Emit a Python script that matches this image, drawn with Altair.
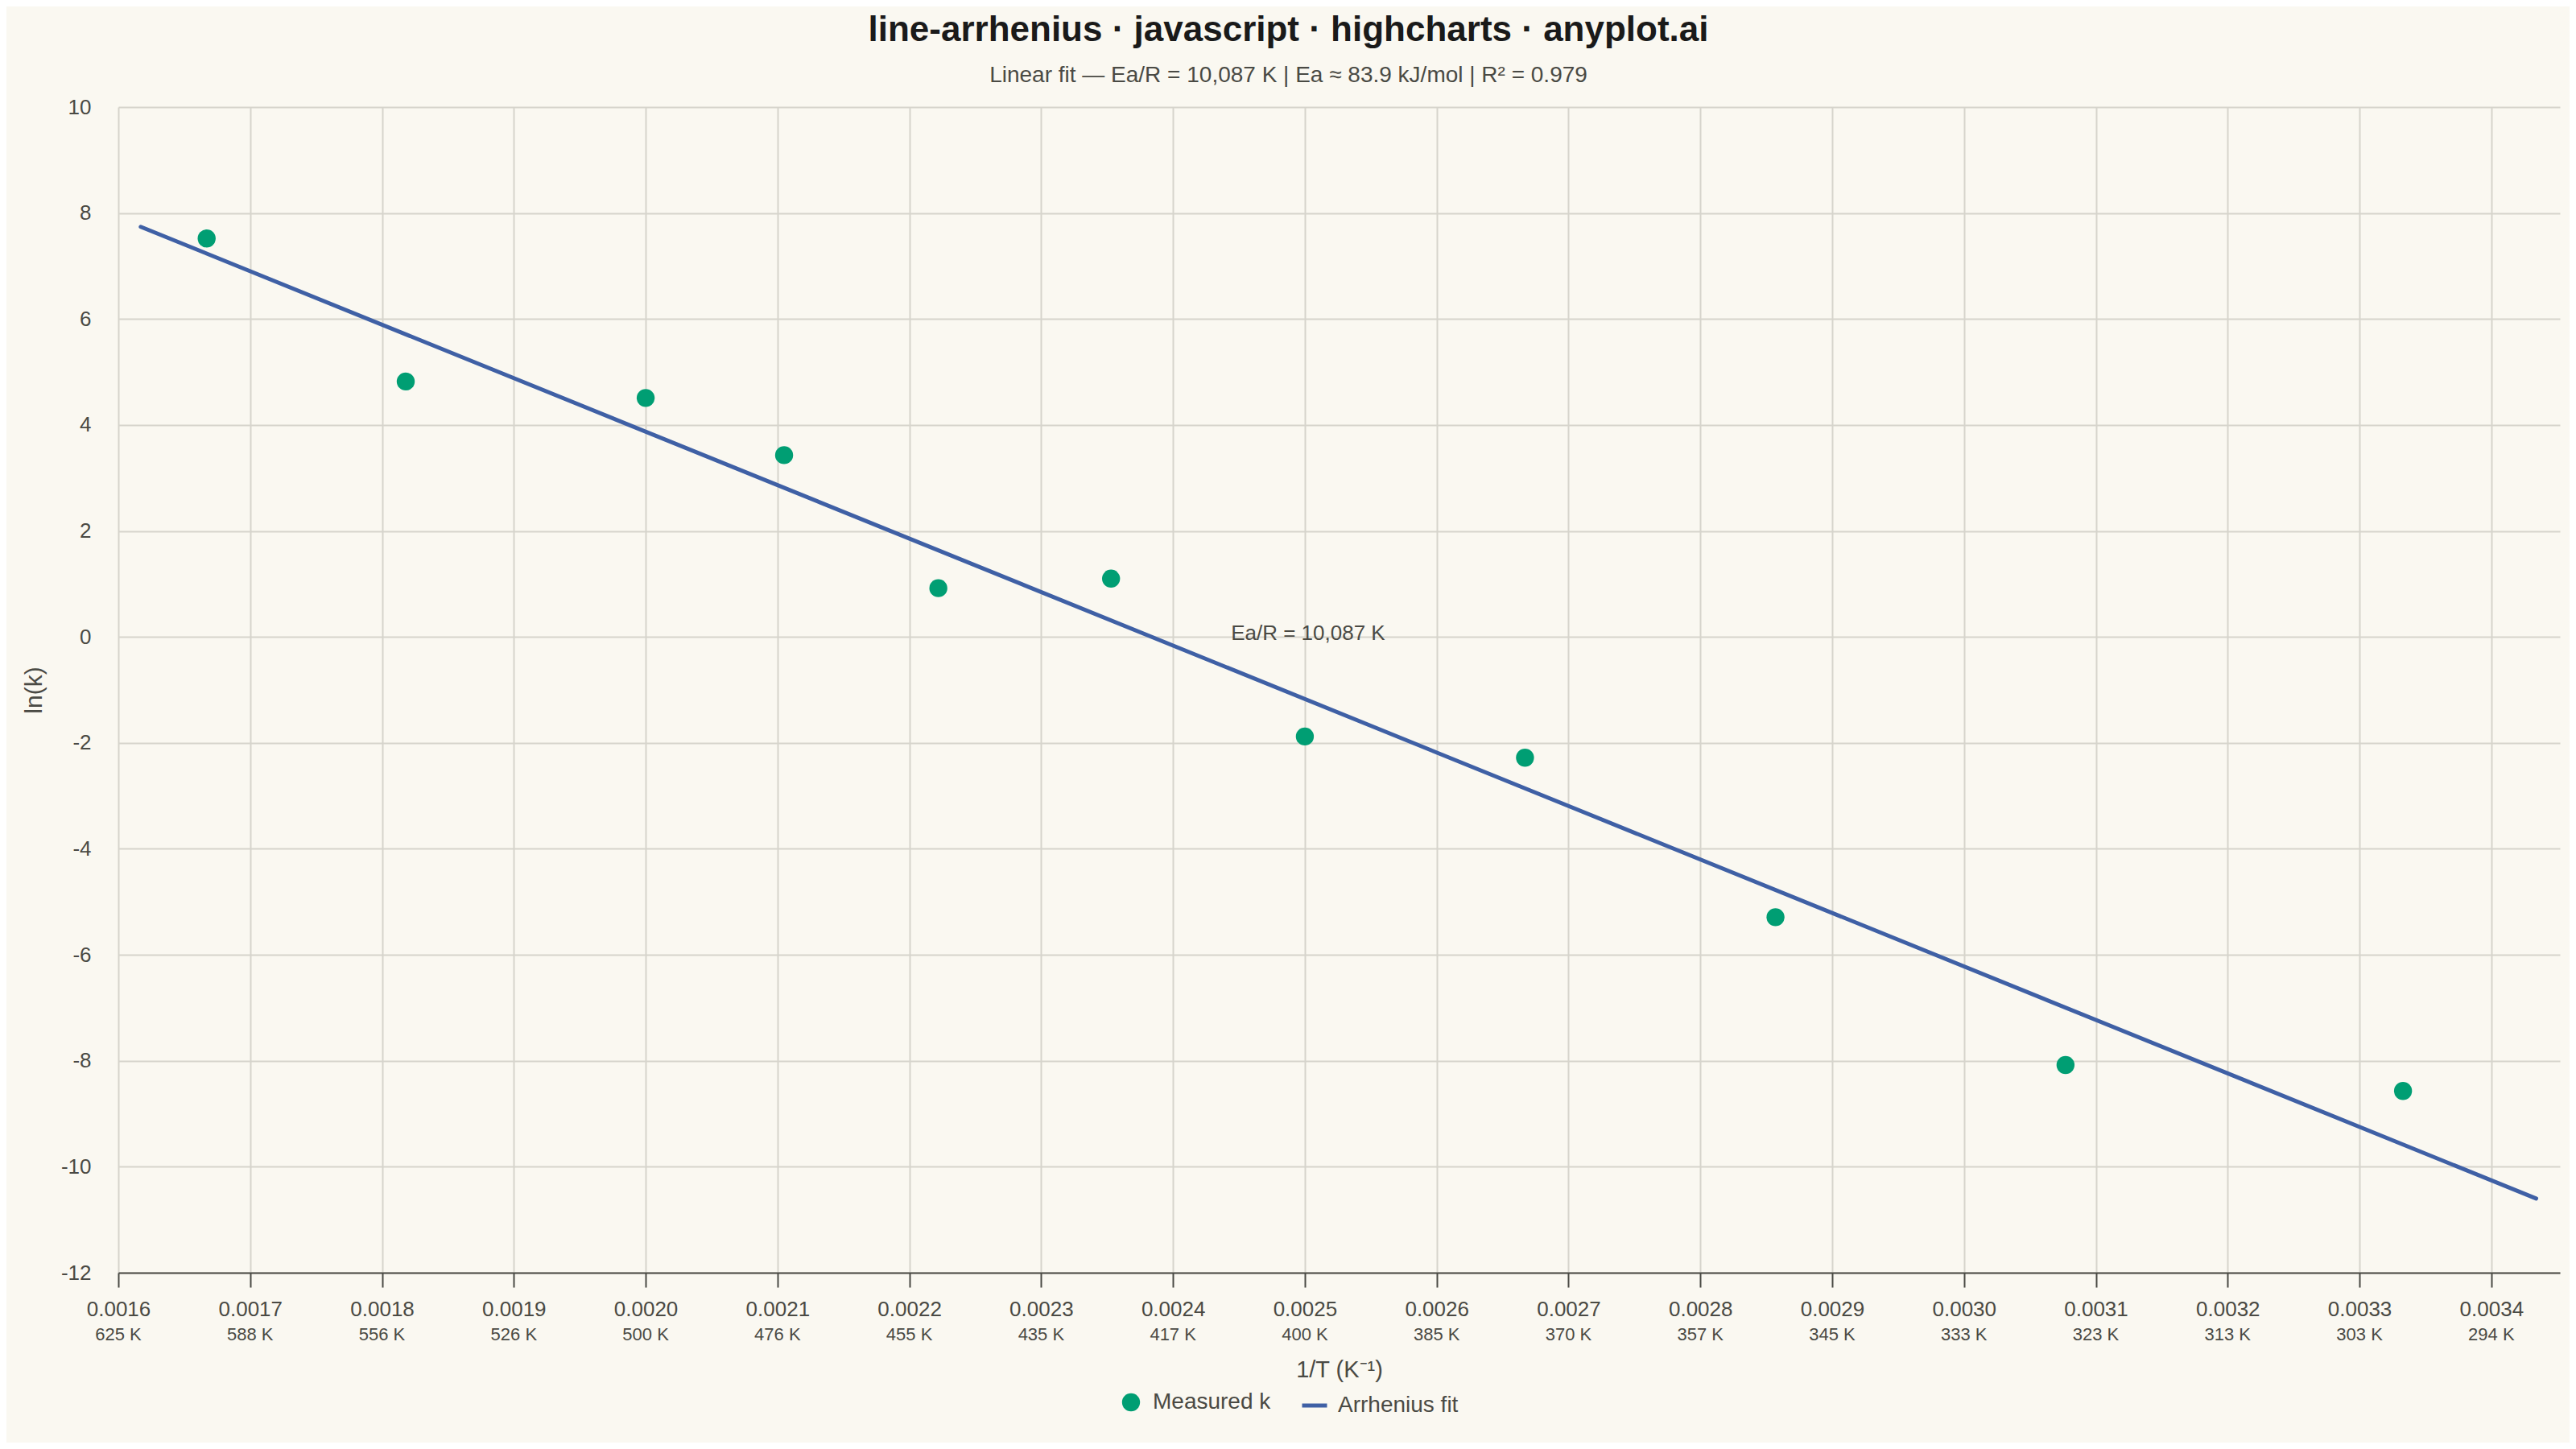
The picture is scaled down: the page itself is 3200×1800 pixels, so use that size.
import altair as alt
import pandas as pd

# ---- data ----
inv_T = [0.001667, 0.001818, 0.002000, 0.002105, 0.002222, 0.002353,
         0.002500, 0.002667, 0.002857, 0.003077, 0.003333]
ln_k = [7.52, 4.82, 4.51, 3.43, 0.92, 1.10, -1.88, -2.28, -5.29, -8.08, -8.57]

fit_x = [0.001617, 0.003434]
fit_y = [7.74, -10.60]

tick_values = [0.0016, 0.0017, 0.0018, 0.0019, 0.0020, 0.0021, 0.0022, 0.0023,
               0.0024, 0.0025, 0.0026, 0.0027, 0.0028, 0.0029, 0.0030, 0.0031,
               0.0032, 0.0033, 0.0034]
kelvin_labels = ["625 K", "588 K", "556 K", "526 K", "500 K", "476 K", "455 K",
                 "435 K", "417 K", "400 K", "385 K", "370 K", "357 K", "345 K",
                 "333 K", "323 K", "313 K", "303 K", "294 K"]
y_ticks = [-12, -10, -8, -6, -4, -2, 0, 2, 4, 6, 8, 10]

annot_x = [0.0025]
annot_y = [0.0]
annot_text = ["Ea/R = 10,087 K"]

TITLE = "line-arrhenius · javascript · highcharts · anyplot.ai"
SUBTITLE = "Linear fit — Ea/R = 10,087 K | Ea ≈ 83.9 kJ/mol | R² = 0.979"

FONT = "Liberation Sans"
BG = "#FAF8F1"
TEXT = "#4A4A44"
GREEN = "#009E73"
BLUE = "#3F60A5"
GRID = "#D6D4CC"

W, H = 3033, 1448

pts = pd.DataFrame({"x": inv_T, "y": ln_k, "series": ["Measured k"] * len(inv_T)})
fit = pd.DataFrame({"x": fit_x, "y": fit_y, "series": ["Arrhenius fit"] * len(fit_x)})
kel = pd.DataFrame({"x": tick_values, "label": kelvin_labels})
ann = pd.DataFrame({"x": annot_x, "y": annot_y, "text": annot_text})

xscale = alt.Scale(domain=[0.0016, 0.003452], nice=False, zero=False)
yscale = alt.Scale(domain=[-12, 10], nice=False, zero=False)

xaxis = alt.Axis(
    values=tick_values, format=".4f", title="1/T (K⁻¹)",
    labelFontSize=26, labelColor=TEXT, labelFont=FONT, labelBaseline="alphabetic",
    labelPadding=35, tickSize=18, tickWidth=2, tickColor=TEXT,
    domainColor=TEXT, domainWidth=2, grid=True, gridColor=GRID, gridWidth=2,
    titleFontSize=29, titleFont=FONT, titleColor=TEXT, titleFontWeight="normal",
    titleY=129, titleBaseline="alphabetic", labelFlush=False, labelOverlap=False,
)
yaxis = alt.Axis(
    values=y_ticks, title="ln(k)", ticks=False, domain=False,
    labelExpr="datum.value + ''",
    labelFontSize=26, labelColor=TEXT, labelFont=FONT, labelPadding=34,
    grid=True, gridColor=GRID, gridWidth=2,
    titleFontSize=30, titleFont=FONT, titleColor=TEXT, titleFontWeight="normal",
    titleX=-96, titleY=H / 2, titleAngle=-90, titleBaseline="alphabetic",
)

line = alt.Chart(fit).mark_line(strokeWidth=5, strokeCap="round").encode(
    x=alt.X("x:Q", scale=xscale, axis=xaxis),
    y=alt.Y("y:Q", scale=yscale, axis=yaxis),
    stroke=alt.Stroke(
        "series:N",
        scale=alt.Scale(domain=["Arrhenius fit"], range=[BLUE]),
        legend=alt.Legend(
            orient="none", legendX=1468, legendY=1595, title=None,
            symbolType="stroke", symbolSize=961, symbolStrokeWidth=5,
            labelFontSize=28, labelFont=FONT, labelColor=TEXT, labelOffset=11,
            padding=0,
        ),
    ),
)

points = alt.Chart(pts).mark_circle(size=500, opacity=1).encode(
    x="x:Q",
    y="y:Q",
    fill=alt.Fill(
        "series:N",
        scale=alt.Scale(domain=["Measured k"], range=[GREEN]),
        legend=alt.Legend(
            orient="none", legendX=1244, legendY=1595, title=None,
            symbolType="circle", symbolSize=500, symbolStrokeWidth=0,
            labelFontSize=28, labelFont=FONT, labelColor=TEXT, labelOffset=13,
            padding=0,
        ),
    ),
)

kelvin = alt.Chart(kel).mark_text(
    fontSize=22, font=FONT, color=TEXT, baseline="alphabetic", align="center"
).encode(x="x:Q", y=alt.value(H + 83.6), text="label:N")

annotation = alt.Chart(ann).mark_text(
    fontSize=26, font=FONT, color=TEXT, baseline="middle", align="center",
    dx=4, dy=-4,
).encode(x="x:Q", y="y:Q", text="text:N")

chart = alt.layer(line, points, kelvin, annotation).resolve_legend(
    fill="independent", stroke="independent"
).properties(
    width=W, height=H,
    title=alt.TitleParams(
        text=TITLE, subtitle=SUBTITLE, anchor="middle", dx=-63,
        font=FONT, fontSize=44, fontWeight="bold", color="#1A1A1A",
        subtitleFont=FONT, subtitleFontSize=28, subtitleColor=TEXT,
        subtitlePadding=20, offset=12,
    ),
    autosize=alt.AutoSizeParams(type="none"),
    padding={"left": 139, "top": 125, "right": 12, "bottom": 211},
    background=BG,
).configure_view(stroke=None)

chart.save("out.html", embed_options={"renderer": "svg", "actions": False})
